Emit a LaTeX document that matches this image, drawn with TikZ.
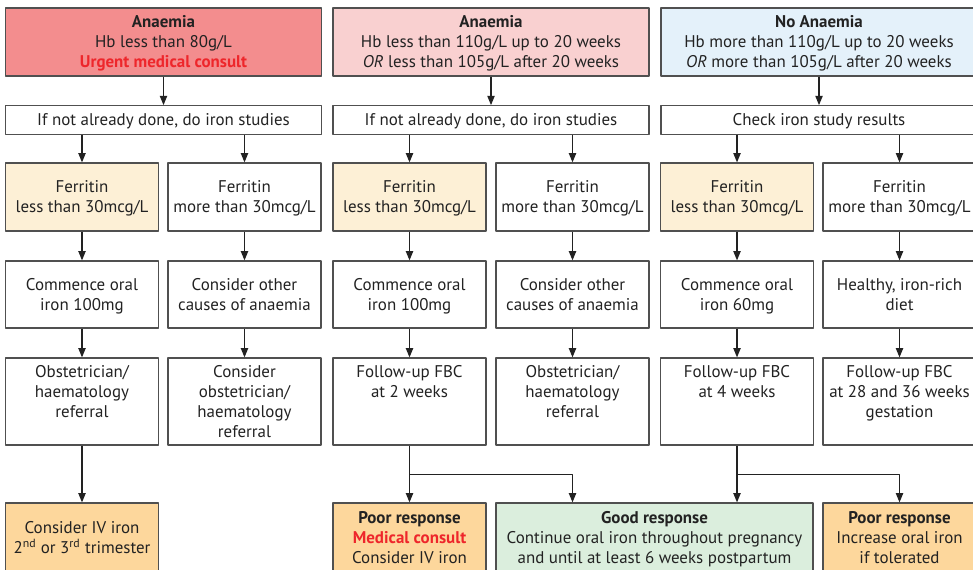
\documentclass[tikz,border=0pt]{standalone}
\usepackage{fontspec}
\setmainfont{PT Sans}
\usetikzlibrary{arrows.meta}

\definecolor{urgent}{HTML}{F38D8E}
\definecolor{pinkfill}{HTML}{F9D0D0}
\definecolor{bluefill}{HTML}{E4F1FA}
\definecolor{creamfill}{HTML}{FDF0D6}
\definecolor{orangefill}{HTML}{FDD79C}
\definecolor{greenfill}{HTML}{DBEEDD}
\definecolor{alertred}{HTML}{EE262B}
\definecolor{boxline}{HTML}{505050}
\definecolor{ink}{HTML}{222222}

\newcommand{\blank}{\\\mbox{}}

\begin{document}
\begin{tikzpicture}[x=0.75pt,y=-0.75pt,line join=round,
  box/.style={draw=boxline,line width=0.9pt,fill=white,align=center,inner sep=0pt,
    text=ink,font=\fontsize{12.7}{15}\selectfont,text depth=0.5pt},
  narrow/.style={minimum width=114.75pt},
  wide/.style={minimum width=237pt},
  arr/.style={draw=ink,line width=0.9pt,-{Triangle[length=7pt,width=5.5pt]}}]
  \useasboundingbox (0,0) rectangle (973,570);
  % top row
  \node[box,wide,fill=urgent,minimum height=51pt] (topA) at (163.5,42)
    {\textbf{Anaemia}\\Hb less than 80g/L\\\textcolor{alertred}{\textbf{Urgent medical consult}}};
  \node[box,wide,fill=pinkfill,minimum height=51pt] (topB) at (491,42)
    {\textbf{Anaemia}\\Hb less than 110g/L up to 20 weeks\\\textit{OR} less than 105g/L after 20 weeks};
  \node[box,wide,fill=bluefill,minimum height=51pt] (topC) at (819,42)
    {\textbf{No Anaemia}\\Hb more than 110g/L up to 20 weeks\\\textit{OR} more than 105g/L after 20 weeks};
  % iron studies
  \node[box,wide,minimum height=21.4pt] (studyA) at (163.5,120) {If not already done, do iron studies};
  \node[box,wide,minimum height=21.4pt] (studyB) at (491,120) {If not already done, do iron studies};
  \node[box,wide,minimum height=21.4pt] (studyC) at (819,120) {Check iron study results};
  % ferritin
  \node[box,narrow,fill=creamfill,minimum height=51pt] (ferA1) at (82,197) {Ferritin\\less than 30mcg/L};
  \node[box,narrow,minimum height=51pt] (ferA2) at (244.5,197) {Ferritin\\more than 30mcg/L};
  \node[box,narrow,fill=creamfill,minimum height=51pt] (ferB1) at (409.5,197) {Ferritin\\less than 30mcg/L};
  \node[box,narrow,minimum height=51pt] (ferB2) at (572.5,197) {Ferritin\\more than 30mcg/L};
  \node[box,narrow,fill=creamfill,minimum height=51pt] (ferC1) at (737,197) {Ferritin\\less than 30mcg/L};
  \node[box,narrow,minimum height=51pt] (ferC2) at (899.5,197) {Ferritin\\more than 30mcg/L};
  % actions
  \node[box,narrow,minimum height=50.25pt] (actA1) at (82,294.5) {Commence oral\\iron 100mg};
  \node[box,narrow,minimum height=50.25pt] (actA2) at (244.5,294.5) {Consider other\\causes of anaemia};
  \node[box,narrow,minimum height=50.25pt] (actB1) at (409.5,294.5) {Commence oral\\iron 100mg};
  \node[box,narrow,minimum height=50.25pt] (actB2) at (572.5,294.5) {Consider other\\causes of anaemia};
  \node[box,narrow,minimum height=50.25pt] (actC1) at (737,294.5) {Commence oral\\iron 60mg};
  \node[box,narrow,minimum height=50.25pt] (actC2) at (899.5,294.5) {Healthy, iron-rich\\diet};
  % follow-up
  \node[box,narrow,minimum height=65.25pt] (fupA1) at (82,401.5) {Obstetrician/\\haematology\\referral\blank};
  \node[box,narrow,minimum height=65.25pt] (fupA2) at (244.5,401.5) {Consider\\obstetrician/\\haematology\\referral};
  \node[box,narrow,minimum height=65.25pt] (fupB1) at (409.5,401.5) {Follow-up FBC\\at 2 weeks\blank\blank};
  \node[box,narrow,minimum height=65.25pt] (fupB2) at (572.5,401.5) {Obstetrician/\\haematology\\referral\blank};
  \node[box,narrow,minimum height=65.25pt] (fupC1) at (737,401.5) {Follow-up FBC\\at 4 weeks\blank\blank};
  \node[box,narrow,minimum height=65.25pt] (fupC2) at (899.5,401.5) {Follow-up FBC\\at 28 and 36 weeks\\gestation\blank};
  % outcomes
  \node[box,narrow,fill=orangefill,minimum height=52.5pt] (ivA) at (82,538)
    {Consider IV iron\\2\textsuperscript{nd} or 3\textsuperscript{rd} trimester};
  \node[box,narrow,fill=orangefill,minimum height=52.5pt] (poorB) at (409.5,538)
    {\textbf{Poor response}\\\textcolor{alertred}{\textbf{Medical consult}}\\Consider IV iron};
  \node[box,fill=greenfill,minimum width=237.75pt,minimum height=52.5pt] (good) at (654.5,538)
    {\textbf{Good response}\\Continue oral iron throughout pregnancy\\and until at least 6 weeks postpartum};
  \node[box,narrow,fill=orangefill,minimum height=52.5pt] (poorC) at (899.5,538)
    {\textbf{Poor response}\\Increase oral iron\\if tolerated};
  % connectors
  \draw[arr] (topA) -- (studyA);
  \draw[arr] (topB) -- (studyB);
  \draw[arr] (topC) -- (studyC);
  \foreach \s/\a/\b in {A/A1/A2,B/B1/B2,C/C1/C2} {
    \draw[arr] (study\s.south -| fer\a.north) -- (fer\a);
    \draw[arr] (study\s.south -| fer\b.north) -- (fer\b);
  }
  \foreach \c in {A1,A2,B1,B2,C1,C2} {
    \draw[arr] (fer\c) -- (act\c);
    \draw[arr] (act\c) -- (fup\c);
  }
  \draw[arr] (fupA1) -- (ivA);
  \draw[arr] (fupB1) -- (poorB);
  \draw[arr] (fupB1.south) ++(0,29) -| (good.north -| fupB2.south);
  \draw[arr] (fupC1.south) -- (good.north -| fupC1.south);
  \draw[arr] (fupC1.south) ++(0,29) -| (poorC);
\end{tikzpicture}
\end{document}
